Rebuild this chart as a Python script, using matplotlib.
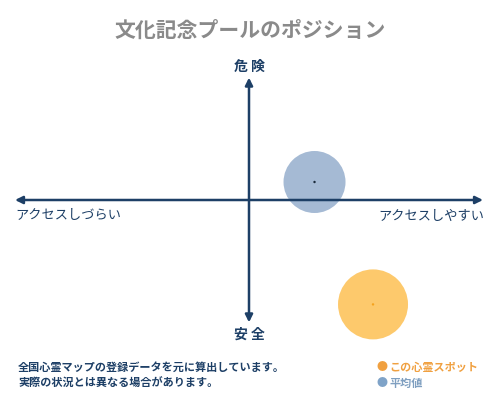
import matplotlib
matplotlib.use('Agg')
import matplotlib.pyplot as plt

plt.rcParams['font.family'] = ['Noto Sans CJK JP', 'DejaVu Sans']

# data (normalized: x = access ease, y = danger)
names = ['この心霊スポット', '平均値']
access = [0.53, 0.28]
danger = [-0.87, 0.15]
radius_px = [35, 31]
colors = ['#fdc96c', '#a5bad4']
dot_colors = ['#f5a21e', '#1a2a3a']

title = '文化記念プールのポジション'
axis_labels = {'top': '危 険', 'bottom': '安 全',
               'left': 'アクセスしづらい', 'right': 'アクセスしやすい'}
notes = ['全国心霊マップの登録データを元に算出しています。',
         '実際の状況とは異なる場合があります。']

navy = '#1d3f66'

fig = plt.figure(figsize=(5, 4), dpi=100)
# axes: x 15..483 px, y 80..320 px (from top)
ax = fig.add_axes([15 / 500, 1 - 320 / 400, 468 / 500, 240 / 400])
ax.set_xlim(-1, 1)
ax.set_ylim(-1, 1)
ax.axis('off')

pt = 72 / 100
for i in range(len(names)):
    s = (2 * radius_px[i] * pt) ** 2
    ax.scatter(access[i], danger[i], s=s, color=colors[i], edgecolors='none',
               zorder=2, clip_on=False)
    ax.scatter(access[i], danger[i], s=3, color=dot_colors[i], edgecolors='none',
               zorder=4, clip_on=False)

arrow = dict(arrowstyle='-|>', color=navy, lw=1.8, mutation_scale=11,
             shrinkA=0, shrinkB=0)
for end in [(1, 0), (-1, 0), (0, 1.02), (0, -1.02)]:
    ax.annotate('', xy=end, xytext=(0, 0), arrowprops=arrow,
                annotation_clip=False, zorder=3)

fig.text(0.5, 1 - 30 / 400, title, ha='center', va='center', fontsize=15,
         color='#8a8a8a', fontweight='bold')
fig.text(249 / 500, 1 - 67 / 400, axis_labels['top'], ha='center', va='center',
         fontsize=10, color=navy, fontweight='bold')
fig.text(249 / 500, 1 - 335 / 400, axis_labels['bottom'], ha='center', va='center',
         fontsize=10, color=navy, fontweight='bold')
fig.text(15 / 500, 1 - 216 / 400, axis_labels['left'], ha='left', va='center',
         fontsize=9.5, color=navy)
fig.text(484 / 500, 1 - 216 / 400, axis_labels['right'], ha='right', va='center',
         fontsize=9.5, color=navy)

fig.text(18 / 500, 1 - 367 / 400, notes[0], ha='left', va='center', fontsize=8,
         color=navy, fontweight='bold')
fig.text(18 / 500, 1 - 383 / 400, notes[1], ha='left', va='center', fontsize=8,
         color=navy, fontweight='bold')

leg_y = [367, 383]
leg_text_colors = ['#f0a040', '#7f9fc0']
leg_dot_colors = ['#f0a040', '#7fa3c8']
for i in range(len(names)):
    fig.text(382 / 500, 1 - leg_y[i] / 400, '●', ha='center', va='center',
             fontsize=8, color=leg_dot_colors[i])
    fig.text(389 / 500, 1 - leg_y[i] / 400, names[i], ha='left', va='center',
             fontsize=8, color=leg_text_colors[i], fontweight='bold')

fig.savefig('out.png', dpi=100)
